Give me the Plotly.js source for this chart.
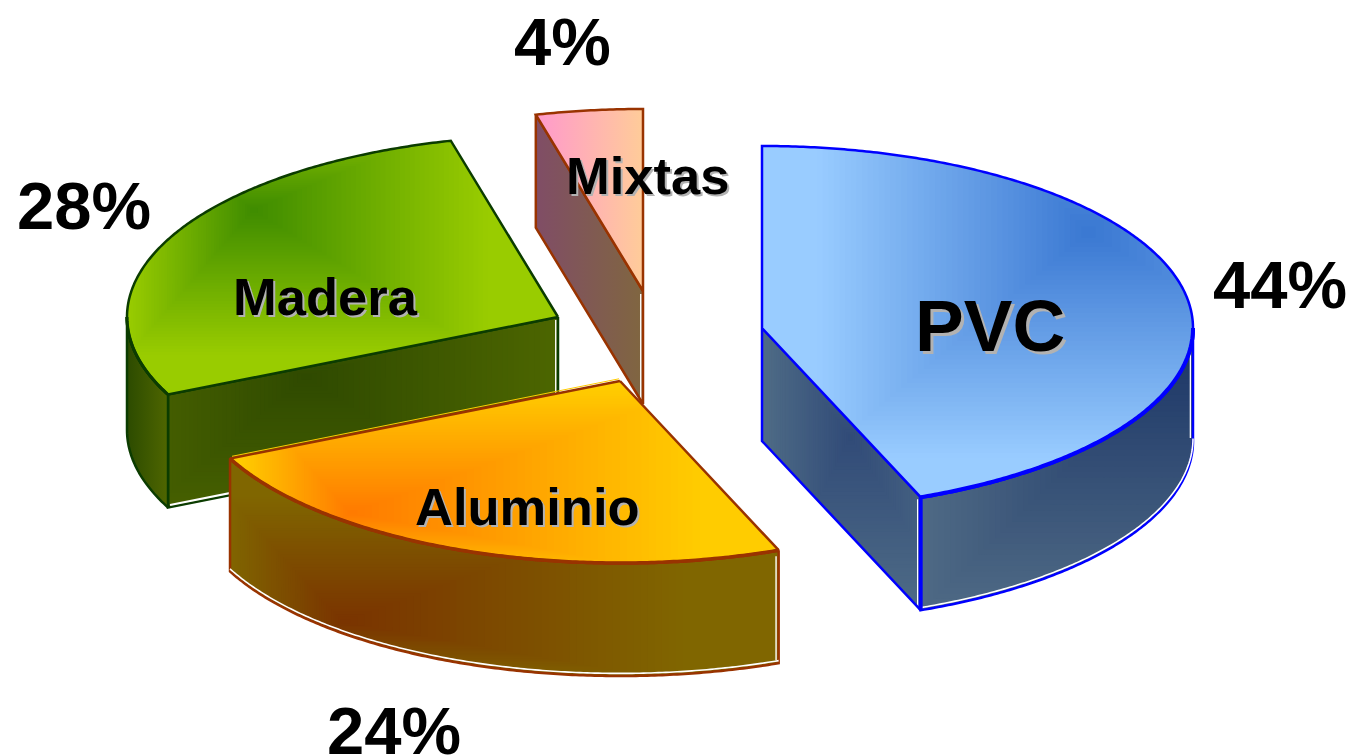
<!DOCTYPE html>
<html><head><meta charset="utf-8">
<script src="https://cdn.plot.ly/plotly-3.0.1.min.js"></script>
<style>html,body{margin:0;padding:0;background:#fff}#c{width:1353px;height:755px}</style>
</head><body><div id="c"></div>
<script>
// DATA (clockwise from 12 o'clock)
const categories = ['PVC', 'Aluminio', 'Madera', 'Mixtas'];
const shares = [44, 24, 28, 4];
const percentLabels = ['44%', '24%', '28%', '4%'];

// Projection of the tilted pie
const RX = 431, RY = 182, DEPTH = 113;
const centres = {PVC:[762,328], Aluminio:[620,381], Madera:[558,317], Mixtas:[643,291]};
const drawOrder = ['Mixtas', 'Madera', 'PVC', 'Aluminio'];

// ext = gradient reach from the focus: [left, right, up, down]
const styles = {
  PVC: {line:'#0000ff', lw:2.5, thick:4, wallWhite:'edge', wallBottomWhite:false, outerWhite:true,
    top:{focus:[1087,233], ext:[270,400,300,225], outer:'#99ccff', inner:'#3a78d2'},
    outerFace:{focus:[1192,345], ext:[270,200,200,265], outer:'#4f6a85', inner:'#1c3667'},
    radial:{focus:[850,437], ext:[88,110,120,175], outer:'#4f6c86', inner:'#314b78'}},
  Aluminio: {line:'#993300', lw:2.5, thick:3.5, outerWhite:true, highlight:'#ffcc00',
    top:{focus:[350,513], ext:[110,350,125,65], outer:'#ffcc00', inner:'#ff7a00'},
    outerFace:{focus:[343,622], ext:[115,340,125,60], outer:'#806600', inner:'#7a3300'}},
  Madera: {line:'#0b3c00', lw:2.5, thick:3, wallWhite:'centre', wallBottomWhite:true, outerWhite:false,
    top:{focus:[253,210], ext:[125,235,100,145], outer:'#99cc00', inner:'#3f8c00'},
    outerFace:{from:'#2c4b00', to:'#4f6600'},
    radial:{focus:[306,376], ext:[200,255,70,170], outer:'#4d6600', inner:'#2f4a00'}},
  Mixtas: {line:'#993300', lw:2.5, thick:2.5, wallWhite:'centre', wallBottomWhite:false,
    top:{from:'#ff99cc', to:'#ffcc99'},
    radial:{from:'#804d66', to:'#806640'}}
};

const rad = d => d * Math.PI / 180;
const pt = (c, a, dz) => [c[0] + RX * Math.sin(rad(a)), c[1] - RY * Math.cos(rad(a)) + (dz || 0)];
function arc(c, a, b, dz) {
  const n = Math.max(1, Math.ceil(Math.abs(b - a) * 2)), out = [];
  for (let i = 0; i <= n; i++) out.push(pt(c, a + (b - a) * i / n, dz));
  return out;
}
const hex = s => [1,3,5].map(i => parseInt(s.substr(i,2),16));
const mix = (a,b,t) => { const A=hex(a),B=hex(b); return 'rgb('+A.map((v,i)=>Math.round(v+(B[i]-v)*t)).join(',')+')'; };

const traces = [];
function poly(pts, extra) {
  traces.push(Object.assign({
    type:'scatter', mode:'lines', x:pts.map(p=>p[0]), y:pts.map(p=>p[1]),
    hoverinfo:'skip', showlegend:false, line:{width:0}
  }, extra));
}
function solid(pts, col) { poly(pts, {fill:'toself', fillcolor:col}); }

// Clip a polygon against one half-plane (axis 0=x, 1=y; sign: keep v*sign <= lim*sign)
function clipHalf(pts, axis, lim, sign) {
  const out = [];
  for (let i = 0; i < pts.length; i++) {
    const p = pts[i], q = pts[(i+1)%pts.length];
    const pin = p[axis]*sign <= lim*sign, qin = q[axis]*sign <= lim*sign;
    if (pin) out.push(p);
    if (pin !== qin) {
      const t = (lim - p[axis]) / (q[axis] - p[axis]);
      out.push([p[0]+(q[0]-p[0])*t, p[1]+(q[1]-p[1])*t]);
    }
  }
  return out;
}
// Rectangular path gradient around a focus
function paint(pts, s) {
  if (s.from) {
    poly(pts, {fill:'toself', fillcolor:s.from,
      fillgradient:{type:'horizontal', colorscale:[[0,s.from],[1,s.to]]}});
    return;
  }
  solid(pts, s.outer);
  const [fx,fy] = s.focus, [L,R,U,D] = s.ext, steps = 48;
  for (let i = 0; i < steps; i++) {
    const k = 1 - i / steps;
    let q = clipHalf(pts, 0, fx-L*k, -1);
    q = clipHalf(q, 0, fx+R*k, 1);
    q = clipHalf(q, 1, fy-U*k, -1);
    q = clipHalf(q, 1, fy+D*k, 1);
    if (q.length > 2) solid(q, mix(s.inner, s.outer, k - 0.5/steps));
  }
}
function stroke(pts, col, w, close) {
  const q = close ? pts.concat([pts[0]]) : pts;
  poly(q, {line:{color:col, width:w, simplify:false}});
}

// Angular extents derive from the shares
const total = shares.reduce((a,b)=>a+b, 0);
let acc = 0;
const spans = {};
categories.forEach((c,i) => { spans[c] = [acc, acc + shares[i]/total*360]; acc = spans[c][1]; });

drawOrder.forEach(name => {
  const c = centres[name], [a,b] = spans[name], st = styles[name];
  // radial walls
  const walls = [];
  if (Math.sin(rad(b)) > 1e-6 ) walls.push(b);
  if (Math.sin(rad(a)) < -1e-6) walls.push(a);
  walls.forEach(t => {
    const e = pt(c,t), e2 = pt(c,t,DEPTH), c2 = [c[0],c[1]+DEPTH];
    const q = [[c[0],c[1]], e, e2, c2];
    paint(q, st.radial);
    if (st.wallWhite === 'edge') {
      const sx = e[0] > c[0] ? -3 : 3;
      stroke([[e[0]+sx, e[1]+2],[e2[0]+sx, e2[1]-4]], '#ffffff', 1.3);
    }
    if (st.wallWhite === 'centre') {
      const sx = c[0] > e[0] ? -2.2 : 2.2;
      stroke([[c[0]+sx, c[1]+3],[c2[0]+sx, c2[1]-3]], '#ffffff', 1.5);
    }
    stroke(q, st.line, st.lw, true);
    if (st.wallBottomWhite) stroke([[e2[0]+2, e2[1]-2.5],[c2[0], c2[1]-2.5]], '#ffffff', 2.2);
  });
  // outer wall
  const lo = Math.max(a, 90), hi = Math.min(b, 270);
  if (hi > lo) {
    const topEdge = arc(c, lo, hi), bottom = arc(c, hi, lo, DEPTH);
    const q = topEdge.concat(bottom);
    paint(q, st.outerFace);
    stroke(q, st.line, st.lw, true);
    if (st.outerWhite) {
      stroke(bottom.map(p => [p[0], p[1]-2.6]), '#ffffff', 1.6);
      const rt = pt(c, lo), rb = pt(c, lo, DEPTH);
      stroke([[rt[0]-2.6, rt[1]+6],[rb[0]-2.6, rb[1]-3]], '#ffffff', 1.4);
    }
    stroke(topEdge, st.line, st.thick);
    if (st.wallWhite === 'edge') {
      const e = pt(c,b), e2 = pt(c,b,DEPTH);
      stroke([e, e2], st.line, st.thick);
    }
  }
  // top face
  const topPts = [[c[0],c[1]]].concat(arc(c, a, b));
  paint(topPts, st.top);
  stroke(topPts, st.line, st.lw, true);
  if (hi > lo) stroke(arc(c, lo, hi), st.line, st.thick);
  if (st.highlight) {
    const e = pt(c,b);
    stroke([[c[0]-1, c[1]-2.2],[e[0]+2, e[1]-2.2]], st.highlight, 1);
  }
});

// Text
const labelFont = {family:'"Liberation Sans", Arial, sans-serif', color:'#000'};
const pctPos = {PVC:[1280,284], Aluminio:[394,730], Madera:[84,205], Mixtas:[562,41]};
const namePos = {PVC:[990,325,73,3], Aluminio:[527,506,52.5,2], Madera:[325,296,52.5,2], Mixtas:[647,175,52.5,2]};
const annotations = [];
categories.forEach((c,i) => {
  annotations.push({xref:'x', yref:'y', x:pctPos[c][0], y:pctPos[c][1], text:'<b>'+percentLabels[i]+'</b>',
    showarrow:false, xanchor:'center', yanchor:'middle', font:Object.assign({size:67}, labelFont)});
  const n = namePos[c];
  annotations.push({xref:'x', yref:'y', x:n[0], y:n[1], text:'<b>'+c+'</b>',
    showarrow:false, xanchor:'center', yanchor:'middle',
    font:Object.assign({size:n[2], shadow:n[3]+'px '+n[3]+'px 0 #b2b2b2'}, labelFont)});
});

Plotly.newPlot('c', traces, {
  width:1353, height:755, margin:{l:0,r:0,t:0,b:0,pad:0},
  paper_bgcolor:'#fff', plot_bgcolor:'#fff', showlegend:false,
  xaxis:{range:[0,1353], visible:false, fixedrange:true},
  yaxis:{range:[755,0], visible:false, fixedrange:true},
  annotations
}, {staticPlot:true, displayModeBar:false});
</script></body></html>
